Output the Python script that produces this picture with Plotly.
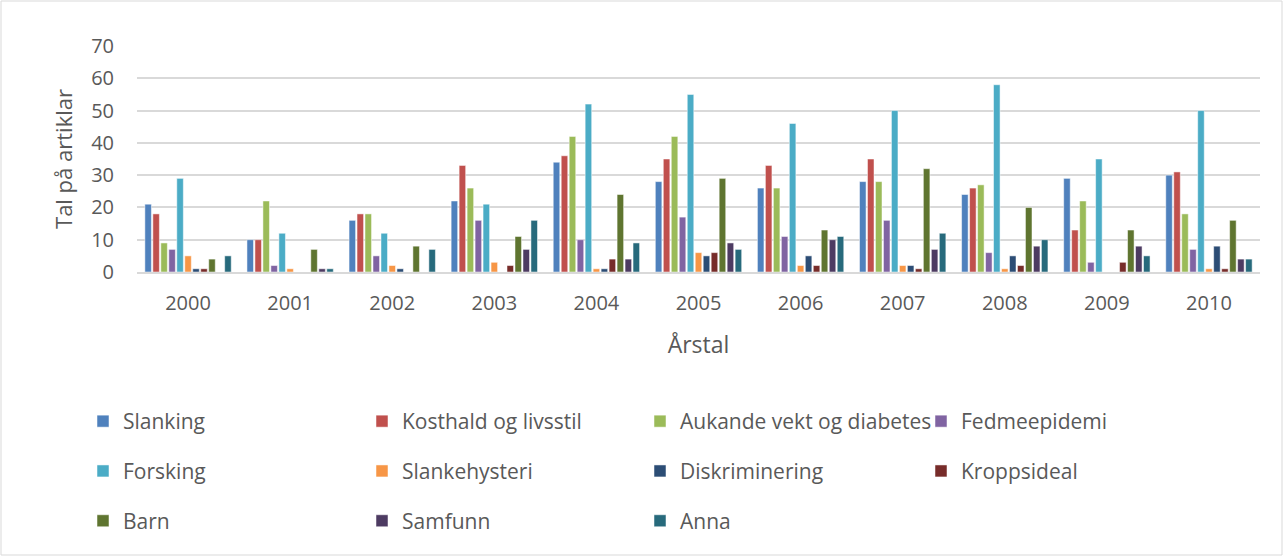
import plotly.graph_objects as go

years = ["2000", "2001", "2002", "2003", "2004", "2005", "2006", "2007", "2008", "2009", "2010"]

slanking       = [21, 10, 16, 22, 34, 28, 26, 28, 24, 29, 30]
kosthald       = [18, 10, 18, 33, 36, 35, 33, 35, 26, 13, 31]
aukande        = [9, 22, 18, 26, 42, 42, 26, 28, 27, 22, 18]
fedmeepidemi   = [7, 2, 5, 16, 10, 17, 11, 16, 6, 3, 7]
forsking       = [29, 12, 12, 21, 52, 55, 46, 50, 58, 35, 50]
slankehysteri  = [5, 1, 2, 3, 1, 6, 2, 2, 1, 0, 1]
diskriminering = [1, 0, 1, 0, 1, 5, 5, 2, 5, 0, 8]
kroppsideal    = [1, 0, 0, 2, 4, 6, 2, 1, 2, 3, 1]
barn           = [4, 7, 8, 11, 24, 29, 13, 32, 20, 13, 16]
samfunn        = [0, 1, 0, 7, 4, 9, 10, 7, 8, 8, 4]
anna           = [5, 1, 7, 16, 9, 7, 11, 12, 10, 5, 4]

series = [
    ("Slanking", slanking, "#4F81BD"),
    ("Kosthald og livsstil", kosthald, "#C0504D"),
    ("Aukande vekt og diabetes", aukande, "#9BBB59"),
    ("Fedmeepidemi", fedmeepidemi, "#8064A2"),
    ("Forsking", forsking, "#4BACC6"),
    ("Slankehysteri", slankehysteri, "#F79646"),
    ("Diskriminering", diskriminering, "#2C4D75"),
    ("Kroppsideal", kroppsideal, "#772C2A"),
    ("Barn", barn, "#5F7530"),
    ("Samfunn", samfunn, "#4D3B62"),
    ("Anna", anna, "#276A7C"),
]

FONT = "Open Sans"
TXT = "#595959"
legend_names = ["legend", "legend2", "legend3", "legend4"]

fig = go.Figure()
for i, (name, vals, col) in enumerate(series):
    fig.add_trace(go.Bar(x=years, y=vals, name=name,
                         marker=dict(color=col, line=dict(color="white", width=0.5)),
                         legend=legend_names[i % 4], legendgroup=name))

W, H = 1284, 557
L, R, T, B = 137, 24, 46, 285
pw, ph = W - L - R, H - T - B

def px_(xpix):
    return (xpix - L) / pw

def py(ypix):
    return (H - B - ypix) / ph

col_x = [83, 362, 640, 921]
legends = {}
for name, cx in zip(legend_names, col_x):
    legends[name] = dict(orientation="v", x=px_(cx), xanchor="left", y=py(401), yanchor="top",
                         tracegroupgap=19.5,
                         font=dict(family=FONT, size=21, color=TXT), bgcolor="rgba(0,0,0,0)")

fig.update_layout(
    width=W, height=H,
    margin=dict(l=L, r=R, t=T, b=B),
    paper_bgcolor="white", plot_bgcolor="white",
    font=dict(family=FONT, color=TXT),
    barmode="group", bargap=0.14, bargroupgap=0.18,
    xaxis=dict(showgrid=False, showline=True, linecolor="#d9d9d9", linewidth=1.5,
               ticks="", tickfont=dict(family=FONT, size=20, color=TXT), ticklabelstandoff=12,
               title=dict(text="Årstal", font=dict(family=FONT, size=23, color=TXT), standoff=22)),
    yaxis=dict(range=[0, 70], dtick=10, showgrid=True, gridcolor="#d9d9d9", gridwidth=1.5,
               zeroline=False, showline=False, ticks="",
               tickfont=dict(family=FONT, size=20, color=TXT), ticklabelstandoff=22,
               title=dict(text="Tal på artiklar", font=dict(family=FONT, size=22, color=TXT), standoff=12)),
    shapes=[dict(type="rect", xref="paper", yref="paper",
                 x0=px_(1), x1=px_(W - 2),
                 y0=py(H - 2), y1=py(1),
                 line=dict(color="#d9d9d9", width=1), fillcolor="rgba(0,0,0,0)", layer="below")],
    **legends,
)

fig.write_html("out.html", config={"displayModeBar": False},
               post_script="document.body.style.margin='0';document.body.style.overflow='hidden';")
